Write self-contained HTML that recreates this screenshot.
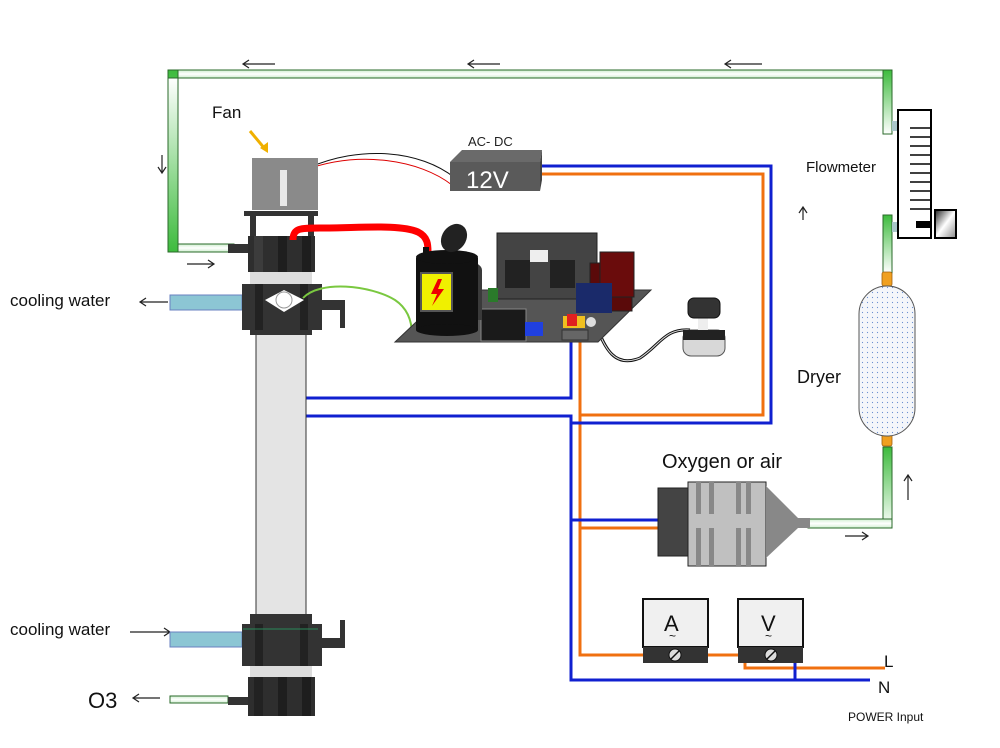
<!DOCTYPE html>
<html><head><meta charset="utf-8"><style>
html,body{margin:0;padding:0;background:#fff;}
svg{display:block;font-family:"Liberation Sans",Arial,sans-serif;}
</style></head><body>
<svg width="1000" height="748" viewBox="0 0 1000 748" xmlns="http://www.w3.org/2000/svg">
<defs>
<linearGradient id="gv" x1="0" y1="0" x2="0" y2="1"><stop offset="0" stop-color="#3dbb3d"/><stop offset="0.5" stop-color="#fff"/><stop offset="1" stop-color="#3dbb3d"/></linearGradient>
<linearGradient id="gh" x1="0" y1="0" x2="1" y2="0"><stop offset="0" stop-color="#3dbb3d"/><stop offset="0.5" stop-color="#fff"/><stop offset="1" stop-color="#3dbb3d"/></linearGradient>
<linearGradient id="gtb" x1="0" y1="0" x2="0" y2="1"><stop offset="0" stop-color="#3dbb3d"/><stop offset="1" stop-color="#fff"/></linearGradient>
<linearGradient id="gbt" x1="0" y1="0" x2="0" y2="1"><stop offset="0" stop-color="#fff"/><stop offset="1" stop-color="#3dbb3d"/></linearGradient>
<linearGradient id="hz" x1="0" y1="0" x2="0" y2="1"><stop offset="0" stop-color="#cfeecf"/><stop offset="0.5" stop-color="#fff"/><stop offset="1" stop-color="#cfeecf"/></linearGradient>
<linearGradient id="knob" x1="0" y1="0" x2="1" y2="1"><stop offset="0" stop-color="#222"/><stop offset="0.5" stop-color="#fff"/><stop offset="1" stop-color="#888"/></linearGradient>
<pattern id="dots" width="5" height="5" patternUnits="userSpaceOnUse"><rect width="5" height="5" fill="#f4f6fa"/><circle cx="2.5" cy="2.5" r="0.6" fill="#6a8fd0"/></pattern>
</defs>

<!-- gas pipes -->
<rect x="168" y="70" width="724" height="8" fill="url(#hz)" stroke="#2a6a2a" stroke-width="1"/>
<rect x="168" y="70" width="10" height="182" fill="url(#gtb)" stroke="#2a6a2a" stroke-width="1" transform="rotate(0)"/>
<rect x="168" y="244" width="66" height="8" fill="url(#hz)" stroke="#2a6a2a" stroke-width="1"/>
<rect x="168" y="78" width="10" height="174" fill="#fff" stroke="none"/>
<rect x="168" y="78" width="10" height="174" fill="url(#gbt)" stroke="#2a6a2a" stroke-width="1"/>
<rect x="883" y="70" width="9" height="64" fill="url(#gtb)" stroke="#2a6a2a"/>
<rect x="883" y="215" width="9" height="58" fill="url(#gtb)" stroke="#2a6a2a"/>
<rect x="883" y="447" width="9" height="81" fill="url(#gtb)" stroke="#2a6a2a"/>
<rect x="808" y="519" width="84" height="9" fill="url(#hz)" stroke="#2a6a2a"/>
<rect x="892" y="121" width="8" height="10" fill="#a9c6c9"/>
<rect x="892" y="222" width="8" height="10" fill="#a9c6c9"/>
<!-- flow arrows -->
<g stroke="#222" stroke-width="1.2" fill="none">
<path d="M275 64H243M249 60L243 64L249 68"/>
<path d="M500 64H468M474 60L468 64L474 68"/>
<path d="M762 64H725M731 60L725 64L731 68"/>
<path d="M162 155V173M158 167L162 173L166 167"/>
<path d="M187 264H214M208 260L214 264L208 268"/>
<path d="M803 220V207M799 213L803 207L807 213"/>
<path d="M908 500V475M904 481L908 475L912 481"/>
<path d="M845 536H868M862 532L868 536L862 540"/>
<path d="M168 302H140M146 298L140 302L146 306"/>
<path d="M130 632H170M164 628L170 632L164 636"/>
<path d="M160 698H133M139 694L133 698L139 702"/>
</g>

<!-- flowmeter -->
<rect x="898" y="110" width="33" height="128" fill="#fff" stroke="#000" stroke-width="2"/>
<g stroke="#000" stroke-width="1.5">
<line x1="910" y1="128" x2="930" y2="128"/><line x1="910" y1="137" x2="930" y2="137"/><line x1="910" y1="146" x2="930" y2="146"/><line x1="910" y1="155" x2="930" y2="155"/><line x1="910" y1="164" x2="930" y2="164"/><line x1="910" y1="173" x2="930" y2="173"/><line x1="910" y1="182" x2="930" y2="182"/><line x1="910" y1="191" x2="930" y2="191"/><line x1="910" y1="200" x2="930" y2="200"/><line x1="910" y1="209" x2="930" y2="209"/>
</g>
<rect x="916" y="221" width="16" height="7" fill="#000"/>
<rect x="935" y="210" width="21" height="28" fill="url(#knob)" stroke="#000" stroke-width="2"/>
<!-- dryer -->
<rect x="882" y="272" width="10" height="14" rx="2" fill="#f0a020" stroke="#a06010" stroke-width="0.8"/>
<rect x="882" y="430" width="10" height="16" rx="2" fill="#f0a020" stroke="#a06010" stroke-width="0.8"/>
<rect x="859" y="286" width="56" height="150" rx="28" fill="url(#dots)" stroke="#555" stroke-width="1"/>

<!-- wires -->
<g fill="none" stroke-width="3">
<path d="M540 174H763V415H580" stroke="#f07010"/>
<path d="M580 340V655H648" stroke="#f07010"/>
<path d="M580 528H660" stroke="#f07010"/>
<path d="M708 655H745" stroke="#f07010"/>
<path d="M745 652V668H885" stroke="#f07010"/>
<path d="M540 166H771V423H571" stroke="#1020d0"/>
<path d="M282 300V416H571V680H870" stroke="#1020d0"/>
<path d="M571 340V398H290V300" stroke="#1020d0"/>
<path d="M571 520H660" stroke="#1020d0"/>
<path d="M795 652V680" stroke="#1020d0"/>
</g>
<!-- fan wires -->
<path d="M305 170C360 150 420 160 452 185" fill="none" stroke="#d00" stroke-width="1"/>
<path d="M308 168C360 145 420 150 455 178" fill="none" stroke="#111" stroke-width="1"/>
<!-- pot wire -->
<path d="M595 322C605 350 615 368 640 358C660 345 665 328 690 330" fill="none" stroke="#111" stroke-width="3"/>
<path d="M595 322C605 350 615 368 640 358C660 345 665 328 690 330" fill="none" stroke="#ddd" stroke-width="1"/>

<!-- ozone tube assembly -->
<rect x="256" y="332" width="50" height="285" fill="#e4e4e4" stroke="#333" stroke-width="1"/>
<!-- fan -->
<rect x="252" y="158" width="66" height="52" fill="#8a8a8a"/>
<rect x="280" y="170" width="7" height="36" fill="#e8e8e8"/>
<rect x="244" y="211" width="74" height="5" fill="#333"/>
<rect x="250" y="216" width="6" height="22" fill="#333"/><rect x="308" y="216" width="6" height="22" fill="#333"/>
<!-- top cap -->
<rect x="228" y="244" width="22" height="9" fill="#333"/>
<rect x="248" y="236" width="67" height="36" fill="#2e2e2e"/>
<rect x="254" y="236" width="9" height="36" fill="#3c3c3c"/><rect x="278" y="236" width="9" height="36" fill="#1e1e1e"/><rect x="302" y="236" width="9" height="36" fill="#1e1e1e"/>
<rect x="250" y="272" width="62" height="12" fill="#ddd"/>
<!-- red HV -->
<path d="M293 240C293 228 300 228 320 228C360 228 400 224 418 232C428 237 428 245 428 252" fill="none" stroke="#f00" stroke-width="7"/>
<!-- upper cooling block -->
<rect x="170" y="295" width="72" height="15" fill="#8cc6d4" stroke="#6a80c0"/>
<rect x="242" y="284" width="80" height="46" fill="#333"/>
<rect x="250" y="325" width="62" height="10" fill="#333"/>
<rect x="322" y="300" width="23" height="10" fill="#333"/><rect x="340" y="300" width="5" height="28" fill="#333"/>
<rect x="255" y="284" width="8" height="46" fill="#222"/><rect x="300" y="284" width="8" height="46" fill="#222"/>
<path d="M265 300L284 290L304 300L284 312Z" fill="#fff"/>
<circle cx="284" cy="300" r="8" fill="#fff" stroke="#999"/>
<path d="M303 298C320 280 370 285 395 300C410 310 412 325 412 335" fill="none" stroke="#7ac840" stroke-width="2"/>
<rect x="410" y="332" width="5" height="8" fill="#111"/>
<!-- lower cooling block -->
<rect x="170" y="632" width="72" height="15" fill="#8cc6d4" stroke="#6a80c0"/>
<rect x="250" y="614" width="62" height="10" fill="#333"/>
<rect x="242" y="624" width="80" height="42" fill="#333"/>
<rect x="255" y="624" width="8" height="42" fill="#222"/><rect x="300" y="624" width="8" height="42" fill="#222"/>
<rect x="322" y="638" width="23" height="10" fill="#333"/><rect x="340" y="620" width="5" height="28" fill="#333"/>
<line x1="243" y1="629" x2="318" y2="629" stroke="#2a8a5a" stroke-width="1"/>
<rect x="250" y="666" width="62" height="11" fill="#ddd"/>
<!-- bottom cap -->
<rect x="170" y="696" width="58" height="7" fill="url(#hz)" stroke="#2a6a2a"/>
<rect x="228" y="697" width="22" height="8" fill="#333"/>
<rect x="248" y="677" width="67" height="39" fill="#2e2e2e"/>
<rect x="254" y="677" width="9" height="39" fill="#222"/><rect x="278" y="677" width="9" height="39" fill="#1e1e1e"/><rect x="302" y="677" width="9" height="39" fill="#1e1e1e"/>

<!-- AC-DC -->
<polygon points="450,162 462,150 542,150 540,162" fill="#6a6a6a"/>
<polygon points="540,162 542,150 542,180 540,191" fill="#444"/>
<rect x="450" y="162" width="90" height="29" fill="#5a5a5a"/>
<text x="466" y="188" font-size="24" fill="#fff">12V</text>
<text x="468" y="146" font-size="13" fill="#222">AC- DC</text>

<!-- PCB -->
<polygon points="395,342 598,342 651,290 450,290" fill="#555" stroke="#333"/>
<rect x="497" y="233" width="100" height="66" fill="#444" stroke="#222"/>
<rect x="505" y="260" width="25" height="28" fill="#222"/><rect x="550" y="260" width="25" height="28" fill="#222"/>
<rect x="530" y="250" width="18" height="12" fill="#eee"/>
<rect x="590" y="263" width="42" height="48" fill="#5a0a0a" stroke="#222"/>
<rect x="600" y="252" width="34" height="45" fill="#6a0c0c" stroke="#222"/>
<rect x="576" y="283" width="36" height="30" fill="#1a2a6a"/>
<rect x="481" y="309" width="45" height="32" fill="#1a1a1a" stroke="#888"/>
<rect x="563" y="316" width="22" height="12" fill="#f0c020"/><rect x="567" y="314" width="10" height="12" fill="#e02020"/>
<rect x="562" y="330" width="26" height="10" fill="#666" stroke="#333"/>
<rect x="525" y="322" width="18" height="14" fill="#2040e0"/>
<circle cx="591" cy="322" r="5" fill="#ddd"/>
<ellipse cx="460" cy="270" rx="22" ry="10" fill="#3a3a3a"/>
<rect x="438" y="270" width="44" height="50" fill="#3a3a3a"/>
<rect x="488" y="288" width="10" height="14" fill="#2a7a2a"/>
<rect x="416" y="258" width="62" height="72" fill="#111"/>
<ellipse cx="447" cy="330" rx="31" ry="6" fill="#111"/>
<ellipse cx="447" cy="257" rx="31" ry="7" fill="#111"/>
<rect x="421" y="273" width="31" height="38" fill="#f0f000" stroke="#555" stroke-width="2"/>
<path d="M438 279L431 294L437 294L432 306L444 289L438 289L442 279Z" fill="#e00"/>
<rect x="423" y="247" width="6" height="8" fill="#111"/>
<ellipse cx="454" cy="238" rx="12" ry="15" transform="rotate(35 454 238)" fill="#222"/>
<!-- potentiometer -->
<rect x="683" y="330" width="42" height="26" rx="8" fill="#d8d8d8" stroke="#555"/>
<rect x="683" y="330" width="42" height="10" fill="#222"/>
<rect x="698" y="318" width="10" height="12" fill="#eee"/>
<rect x="688" y="298" width="32" height="20" rx="6" fill="#333" stroke="#111"/>

<!-- compressor -->
<rect x="658" y="488" width="30" height="68" fill="#444" stroke="#222"/>
<rect x="688" y="482" width="78" height="84" fill="#c0c0c0" stroke="#222"/>
<g fill="#888"><rect x="696" y="482" width="5" height="32"/><rect x="709" y="482" width="5" height="32"/><rect x="736" y="482" width="5" height="32"/><rect x="746" y="482" width="5" height="32"/><rect x="696" y="528" width="5" height="38"/><rect x="709" y="528" width="5" height="38"/><rect x="736" y="528" width="5" height="38"/><rect x="746" y="528" width="5" height="38"/></g>
<polygon points="766,486 798,518 798,528 766,558" fill="#888"/>
<rect x="798" y="518" width="12" height="10" fill="#888"/>
<text x="662" y="468" font-size="20" fill="#111">Oxygen or air</text>

<!-- meters -->
<rect x="643" y="599" width="65" height="48" fill="#f0f0f0" stroke="#111" stroke-width="2"/>
<rect x="643" y="647" width="65" height="16" fill="#333"/>
<circle cx="675" cy="655" r="6" fill="#ddd" stroke="#111"/><line x1="671" y1="659" x2="679" y2="651" stroke="#111" stroke-width="1.5"/>
<text x="664" y="631" font-size="22" fill="#111">A</text><text x="669" y="640" font-size="12" fill="#111">~</text>
<rect x="738" y="599" width="65" height="48" fill="#f0f0f0" stroke="#111" stroke-width="2"/>
<rect x="738" y="647" width="65" height="16" fill="#333"/>
<circle cx="771" cy="655" r="6" fill="#ddd" stroke="#111"/><line x1="767" y1="659" x2="775" y2="651" stroke="#111" stroke-width="1.5"/>
<text x="761" y="631" font-size="22" fill="#111">V</text><text x="765" y="640" font-size="12" fill="#111">~</text>

<!-- labels -->
<text x="212" y="118" font-size="17" fill="#111">Fan</text>
<path d="M250 131L265 149" stroke="#f0b000" stroke-width="3"/>
<polygon points="268,153 260,148 268,142" fill="#f0b000"/>
<text x="10" y="306" font-size="17" fill="#111">cooling water</text>
<text x="10" y="635" font-size="17" fill="#111">cooling water</text>
<text x="88" y="708" font-size="22" fill="#111">O3</text>
<text x="806" y="172" font-size="15" fill="#111">Flowmeter</text>
<text x="797" y="383" font-size="18" fill="#111">Dryer</text>
<text x="884" y="667" font-size="17" fill="#111">L</text>
<text x="878" y="693" font-size="17" fill="#111">N</text>
<text x="848" y="721" font-size="12" fill="#111">POWER Input</text>
</svg>
</body></html>
